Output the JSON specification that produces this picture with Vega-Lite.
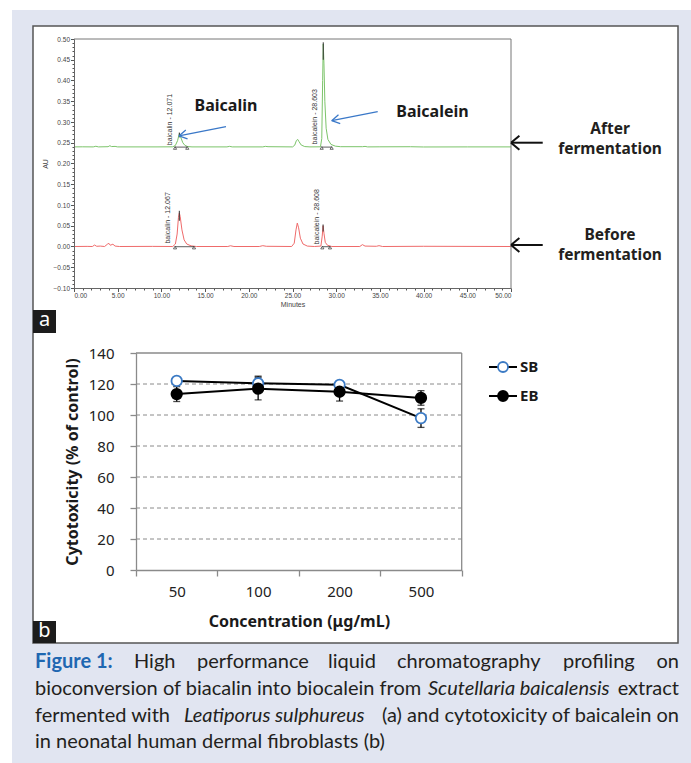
{
  "$schema": "https://vega.github.io/schema/vega-lite/v6.json",
  "width": 691,
  "height": 763,
  "autosize": {"type": "none"},
  "padding": 0,
  "background": "#ffffff",
  "config": {"view": {"stroke": null}, "font": "Noto Sans"},
  "data": {"values": [{}]},
  "datasets": {
    "chrom": [
      {"trace":"After","t":0,"au":0.240},{"trace":"After","t":1.0,"au":0.2402},{"trace":"After","t":2.2,"au":0.240},{"trace":"After","t":2.5,"au":0.2415},{"trace":"After","t":2.8,"au":0.240},{"trace":"After","t":3.9,"au":0.2405},{"trace":"After","t":4.1,"au":0.2428},{"trace":"After","t":4.3,"au":0.2408},{"trace":"After","t":4.7,"au":0.2412},{"trace":"After","t":5.0,"au":0.240},{"trace":"After","t":9.5,"au":0.240},{"trace":"After","t":11.3,"au":0.2402},{"trace":"After","t":11.6,"au":0.2435},{"trace":"After","t":11.85,"au":0.255},{"trace":"After","t":12.0,"au":0.268},{"trace":"After","t":12.07,"au":0.2725},{"trace":"After","t":12.2,"au":0.264},{"trace":"After","t":12.45,"au":0.250},{"trace":"After","t":12.7,"au":0.2435},{"trace":"After","t":13.0,"au":0.2408},{"trace":"After","t":13.5,"au":0.240},{"trace":"After","t":17.5,"au":0.240},{"trace":"After","t":17.8,"au":0.2413},{"trace":"After","t":18.1,"au":0.240},{"trace":"After","t":21.6,"au":0.240},{"trace":"After","t":21.9,"au":0.2413},{"trace":"After","t":22.2,"au":0.2405},{"trace":"After","t":25.0,"au":0.240},{"trace":"After","t":25.25,"au":0.244},{"trace":"After","t":25.45,"au":0.2555},{"trace":"After","t":25.6,"au":0.258},{"trace":"After","t":25.75,"au":0.2525},{"trace":"After","t":26.0,"au":0.2445},{"trace":"After","t":26.4,"au":0.2408},{"trace":"After","t":27.0,"au":0.240},{"trace":"After","t":28.2,"au":0.2402},{"trace":"After","t":28.35,"au":0.26},{"trace":"After","t":28.45,"au":0.40},{"trace":"After","t":28.52,"au":0.488},{"trace":"After","t":28.6,"au":0.44},{"trace":"After","t":28.7,"au":0.35},{"trace":"After","t":28.85,"au":0.285},{"trace":"After","t":29.05,"au":0.258},{"trace":"After","t":29.4,"au":0.246},{"trace":"After","t":29.9,"au":0.2418},{"trace":"After","t":30.5,"au":0.2405},{"trace":"After","t":33.0,"au":0.2405},{"trace":"After","t":33.3,"au":0.2412},{"trace":"After","t":33.6,"au":0.240},{"trace":"After","t":35.0,"au":0.2402},{"trace":"After","t":38.5,"au":0.2404},{"trace":"After","t":40.0,"au":0.2398},{"trace":"After","t":45.0,"au":0.240},{"trace":"After","t":50.0,"au":0.240},
      {"trace":"Before","t":0,"au":0.0},{"trace":"Before","t":1.5,"au":0.0003},{"trace":"Before","t":2.1,"au":0.0},{"trace":"Before","t":2.35,"au":0.0035},{"trace":"Before","t":2.6,"au":0.0005},{"trace":"Before","t":3.0,"au":0.001},{"trace":"Before","t":3.5,"au":0.0},{"trace":"Before","t":3.85,"au":0.006},{"trace":"Before","t":4.0,"au":0.0075},{"trace":"Before","t":4.15,"au":0.003},{"trace":"Before","t":4.45,"au":0.0055},{"trace":"Before","t":4.7,"au":0.001},{"trace":"Before","t":5.2,"au":0.0},{"trace":"Before","t":9.0,"au":0.0003},{"trace":"Before","t":11.3,"au":0.0},{"trace":"Before","t":11.6,"au":0.006},{"trace":"Before","t":11.8,"au":0.03},{"trace":"Before","t":11.95,"au":0.07},{"trace":"Before","t":12.05,"au":0.081},{"trace":"Before","t":12.15,"au":0.072},{"trace":"Before","t":12.35,"au":0.04},{"trace":"Before","t":12.6,"au":0.016},{"trace":"Before","t":12.9,"au":0.006},{"trace":"Before","t":13.4,"au":0.0015},{"trace":"Before","t":14.0,"au":0.0},{"trace":"Before","t":17.6,"au":0.0},{"trace":"Before","t":17.9,"au":0.0018},{"trace":"Before","t":18.3,"au":0.0},{"trace":"Before","t":21.2,"au":0.0},{"trace":"Before","t":21.6,"au":0.002},{"trace":"Before","t":22.0,"au":0.0005},{"trace":"Before","t":24.9,"au":0.0},{"trace":"Before","t":25.2,"au":0.008},{"trace":"Before","t":25.4,"au":0.04},{"trace":"Before","t":25.55,"au":0.0565},{"trace":"Before","t":25.7,"au":0.045},{"trace":"Before","t":25.9,"au":0.02},{"trace":"Before","t":26.2,"au":0.006},{"trace":"Before","t":26.7,"au":0.001},{"trace":"Before","t":27.5,"au":0.0},{"trace":"Before","t":28.25,"au":0.001},{"trace":"Before","t":28.4,"au":0.025},{"trace":"Before","t":28.5,"au":0.05},{"trace":"Before","t":28.6,"au":0.032},{"trace":"Before","t":28.75,"au":0.01},{"trace":"Before","t":29.0,"au":0.003},{"trace":"Before","t":29.5,"au":0.0},{"trace":"Before","t":32.7,"au":0.0},{"trace":"Before","t":33.0,"au":0.0045},{"trace":"Before","t":33.3,"au":0.001},{"trace":"Before","t":34.6,"au":0.0005},{"trace":"Before","t":34.9,"au":0.002},{"trace":"Before","t":35.3,"au":0.0},{"trace":"Before","t":40.0,"au":0.0005},{"trace":"Before","t":50.0,"au":0.0}
    ],
    "peaklabels": [
      {"label":"baicalin - 12.071","t":10.98,"au":0.244},
      {"label":"baicalin - 12.067","t":10.8,"au":0.007},
      {"label":"baicalein - 28.603","t":27.57,"au":0.246},
      {"label":"baicalein - 28.608","t":27.77,"au":0.005}
    ],
    "integration": [
      {"peak":"baicalin after","start":11.56,"end":12.96,"base":0.2395},
      {"peak":"baicalein after","start":28.34,"end":29.48,"base":0.2395},
      {"peak":"baicalin before","start":11.56,"end":13.73,"base":-0.0005},
      {"peak":"baicalein before","start":28.41,"end":29.29,"base":-0.0005}
    ],
    "integrationmarks": [
      {"t":11.56,"au":0.2375},{"t":12.96,"au":0.2375},{"t":28.34,"au":0.2375},{"t":29.48,"au":0.2375},
      {"t":11.56,"au":-0.0025},{"t":13.73,"au":-0.0025},{"t":28.41,"au":-0.0025},{"t":29.29,"au":-0.0025}
    ],
    "apex": [
      {"t":12.05,"lo":0.263,"hi":0.2745},
      {"t":28.52,"lo":0.45,"hi":0.492},
      {"t":12.05,"lo":0.062,"hi":0.086},
      {"t":28.5,"lo":0.036,"hi":0.053}
    ],
    "cyto": [
      {"series":"SB","conc":50,"value":122,"lo":120.5,"hi":123.5},
      {"series":"SB","conc":100,"value":120.5,"lo":116,"hi":125},
      {"series":"SB","conc":200,"value":119.5,"lo":118,"hi":121},
      {"series":"SB","conc":500,"value":98,"lo":92,"hi":104},
      {"series":"EB","conc":50,"value":113.5,"lo":108.7,"hi":118.3},
      {"series":"EB","conc":100,"value":117,"lo":109.7,"hi":124.3},
      {"series":"EB","conc":200,"value":115,"lo":109,"hi":121},
      {"series":"EB","conc":500,"value":111,"lo":106.3,"hi":115.7}
    ]
  },
  "layer": [
    {
      "layer": [
        {"mark": {"type": "rect", "fill": "#e1e5f1"},
         "encoding": {"x": {"datum": 12, "type": "quantitative", "scale": {"domain": [0, 691], "range": [0, 691], "zero": false, "nice": false}, "axis": null}, "x2": {"datum": 691},
                      "y": {"datum": 10, "type": "quantitative", "scale": {"domain": [0, 763], "range": [0, 763], "zero": false, "nice": false}, "axis": null}, "y2": {"datum": 763}}},
        {"mark": {"type": "rect", "fill": "#ffffff", "stroke": "#555555", "strokeWidth": 1.5},
         "encoding": {"x": {"datum": 33}, "x2": {"datum": 678}, "y": {"datum": 26}, "y2": {"datum": 643}}},
        {"mark": {"type": "rect", "fill": "#1c1c1c"},
         "encoding": {"x": {"datum": 33}, "x2": {"datum": 56}, "y": {"datum": 310}, "y2": {"datum": 333}}},
        {"mark": {"type": "rect", "fill": "#1c1c1c"},
         "encoding": {"x": {"datum": 33}, "x2": {"datum": 56}, "y": {"datum": 621}, "y2": {"datum": 643}}},
        {"mark": {"type": "text", "text": "a", "fill": "#ffffff", "fontSize": 20, "align": "center", "baseline": "middle", "font": "Noto Sans"},
         "encoding": {"x": {"datum": 44.5}, "y": {"datum": 320}}},
        {"mark": {"type": "text", "text": "b", "fill": "#ffffff", "fontSize": 20, "align": "center", "baseline": "middle", "font": "Noto Sans"},
         "encoding": {"x": {"datum": 44.5}, "y": {"datum": 631}}},
        {"mark": {"type": "text", "text": "Figure 1:", "fill": "#1f67b1", "fontSize": 20, "fontWeight": "bold", "font": "Lato", "align": "left", "baseline": "middle"},
         "encoding": {"x": {"datum": 35}, "y": {"datum": 662}}},
        {"mark": {"type": "text", "text": "High", "fill": "#231f20", "fontSize": 20, "font": "Lato", "align": "left", "baseline": "middle"},
         "encoding": {"x": {"datum": 134}, "y": {"datum": 662}}},
        {"mark": {"type": "text", "text": "performance", "fill": "#231f20", "fontSize": 20, "font": "Lato", "align": "left", "baseline": "middle"},
         "encoding": {"x": {"datum": 197}, "y": {"datum": 662}}},
        {"mark": {"type": "text", "text": "liquid", "fill": "#231f20", "fontSize": 20, "font": "Lato", "align": "left", "baseline": "middle"},
         "encoding": {"x": {"datum": 328}, "y": {"datum": 662}}},
        {"mark": {"type": "text", "text": "chromatography", "fill": "#231f20", "fontSize": 20, "font": "Lato", "align": "left", "baseline": "middle"},
         "encoding": {"x": {"datum": 397}, "y": {"datum": 662}}},
        {"mark": {"type": "text", "text": "profiling", "fill": "#231f20", "fontSize": 20, "font": "Lato", "align": "left", "baseline": "middle"},
         "encoding": {"x": {"datum": 563}, "y": {"datum": 662}}},
        {"mark": {"type": "text", "text": "on", "fill": "#231f20", "fontSize": 20, "font": "Lato", "align": "right", "baseline": "middle"},
         "encoding": {"x": {"datum": 679}, "y": {"datum": 662}}},
        {"mark": {"type": "text", "text": "bioconversion of biacalin into biocalein from", "fill": "#231f20", "fontSize": 20, "font": "Lato", "align": "left", "baseline": "middle"},
         "encoding": {"x": {"datum": 35}, "y": {"datum": 689}}},
        {"mark": {"type": "text", "text": "Scutellaria baicalensis", "fill": "#231f20", "fontSize": 20, "font": "Lato", "fontStyle": "italic", "align": "left", "baseline": "middle"},
         "encoding": {"x": {"datum": 428}, "y": {"datum": 689}}},
        {"mark": {"type": "text", "text": "extract", "fill": "#231f20", "fontSize": 20, "font": "Lato", "align": "right", "baseline": "middle"},
         "encoding": {"x": {"datum": 679}, "y": {"datum": 689}}},
        {"mark": {"type": "text", "text": "fermented with", "fill": "#231f20", "fontSize": 20, "font": "Lato", "align": "left", "baseline": "middle"},
         "encoding": {"x": {"datum": 35}, "y": {"datum": 716}}},
        {"mark": {"type": "text", "text": "Leatiporus sulphureus", "fill": "#231f20", "fontSize": 20, "font": "Lato", "fontStyle": "italic", "align": "left", "baseline": "middle"},
         "encoding": {"x": {"datum": 184}, "y": {"datum": 716}}},
        {"mark": {"type": "text", "text": "(a) and cytotoxicity of baicalein on", "fill": "#231f20", "fontSize": 20, "font": "Lato", "align": "right", "baseline": "middle"},
         "encoding": {"x": {"datum": 679}, "y": {"datum": 716}}},
        {"mark": {"type": "text", "text": "in neonatal human dermal fibroblasts (b)", "fill": "#231f20", "fontSize": 20, "font": "Lato", "align": "left", "baseline": "middle"},
         "encoding": {"x": {"datum": 35}, "y": {"datum": 742}}}
      ]
    },
    {
      "layer": [
        {"data": {"name": "chrom"},
         "mark": {"type": "line", "strokeWidth": 1},
         "encoding": {
           "x": {"field": "t", "type": "quantitative",
                 "scale": {"domain": [0, 50], "range": [74, 511], "zero": false, "nice": false},
                 "axis": {"orient": "bottom", "offset": -475, "grid": false, "zindex": 1, "tickCount": 200,
                          "values": [0,1,2,3,4,5,6,7,8,9,10,11,12,13,14,15,16,17,18,19,20,21,22,23,24,25,26,27,28,29,30,31,32,33,34,35,36,37,38,39,40,41,42,43,44,45,46,47,48,49,50],
                          "labelExpr": "datum.value % 5 === 0 ? format(datum.value, '.2f') : ''",
                          "tickSize": {"condition": {"test": "datum.value % 5 === 0", "value": 3.5}, "value": 2},
                          "labelFont": "Liberation Sans", "labelFontSize": 6.5, "labelColor": "#444444", "labelPadding": 1, "labelOverlap": false,
                          "tickColor": "#555555", "domainColor": "#666666",
                          "title": "Minutes", "titleFont": "Liberation Sans", "titleFontSize": 7, "titleFontWeight": "normal", "titleColor": "#444444", "titlePadding": 1}},
           "y": {"field": "au", "type": "quantitative",
                 "scale": {"domain": [-0.1, 0.5], "range": [288, 39], "zero": false, "nice": false},
                 "axis": {"orient": "left", "offset": -74, "grid": false, "zindex": 1, "tickCount": 200,
                          "values": [-0.1,-0.09,-0.08,-0.07,-0.06,-0.05,-0.04,-0.03,-0.02,-0.01,0,0.01,0.02,0.03,0.04,0.05,0.06,0.07,0.08,0.09,0.1,0.11,0.12,0.13,0.14,0.15,0.16,0.17,0.18,0.19,0.2,0.21,0.22,0.23,0.24,0.25,0.26,0.27,0.28,0.29,0.3,0.31,0.32,0.33,0.34,0.35,0.36,0.37,0.38,0.39,0.4,0.41,0.42,0.43,0.44,0.45,0.46,0.47,0.48,0.49,0.5],
                          "labelExpr": "abs(datum.value*20 - round(datum.value*20)) < 0.001 ? format(datum.value, '.2f') : ''",
                          "tickSize": {"condition": {"test": "abs(datum.value*20 - round(datum.value*20)) < 0.001", "value": 3.5}, "value": 2},
                          "labelFont": "Liberation Sans", "labelFontSize": 6.5, "labelColor": "#444444", "labelPadding": 1, "labelOverlap": false,
                          "tickColor": "#555555", "domainColor": "#666666",
                          "title": "AU", "titleFont": "Liberation Sans", "titleFontSize": 7, "titleFontWeight": "normal", "titleColor": "#444444", "titlePadding": 5}},
           "color": {"field": "trace", "type": "nominal", "scale": {"domain": ["After", "Before"], "range": ["#7cc46a", "#ef6b6b"]}, "legend": null}
         }},
        {"mark": {"type": "rule", "color": "#777777", "strokeWidth": 1},
         "encoding": {"x": {"datum": 0}, "x2": {"datum": 50}, "y": {"datum": 0.5}}},
        {"mark": {"type": "rule", "color": "#777777", "strokeWidth": 1},
         "encoding": {"x": {"datum": 50}, "y": {"datum": -0.1}, "y2": {"datum": 0.5}}},
        {"data": {"name": "integration"},
         "mark": {"type": "rule", "color": "#333333", "strokeWidth": 0.8},
         "encoding": {"x": {"field": "start", "type": "quantitative"}, "x2": {"field": "end"}, "y": {"field": "base", "type": "quantitative"}}},
        {"data": {"name": "integrationmarks"},
         "mark": {"type": "point", "shape": "triangle-up", "size": 10, "filled": false, "stroke": "#333333", "strokeWidth": 0.7, "opacity": 1},
         "encoding": {"x": {"field": "t", "type": "quantitative"}, "y": {"field": "au", "type": "quantitative"}}},
        {"data": {"name": "apex"},
         "mark": {"type": "rule", "color": "#333333", "strokeWidth": 1},
         "encoding": {"x": {"field": "t", "type": "quantitative"}, "y": {"field": "lo", "type": "quantitative"}, "y2": {"field": "hi"}}},
        {"data": {"name": "peaklabels"},
         "mark": {"type": "text", "angle": 270, "align": "left", "baseline": "middle", "font": "Liberation Sans", "fontSize": 7, "fill": "#333333"},
         "encoding": {"x": {"field": "t", "type": "quantitative"}, "y": {"field": "au", "type": "quantitative"}, "text": {"field": "label"}}},
        {"mark": {"type": "rule", "color": "#3a78c8", "strokeWidth": 1.3},
         "encoding": {"x": {"datum": 17.39}, "y": {"datum": 0.2887}, "x2": {"datum": 12.01}, "y2": {"datum": 0.2663}}},
        {"mark": {"type": "rule", "color": "#3a78c8", "strokeWidth": 1.3},
         "encoding": {"x": {"datum": 12.01}, "y": {"datum": 0.2663}, "x2": {"datum": 12.99}, "y2": {"datum": 0.2593}}},
        {"mark": {"type": "rule", "color": "#3a78c8", "strokeWidth": 1.3},
         "encoding": {"x": {"datum": 12.01}, "y": {"datum": 0.2663}, "x2": {"datum": 12.79}, "y2": {"datum": 0.2805}}},
        {"mark": {"type": "rule", "color": "#3a78c8", "strokeWidth": 1.3},
         "encoding": {"x": {"datum": 34.75}, "y": {"datum": 0.3248}, "x2": {"datum": 29.49}, "y2": {"datum": 0.3031}}},
        {"mark": {"type": "rule", "color": "#3a78c8", "strokeWidth": 1.3},
         "encoding": {"x": {"datum": 29.49}, "y": {"datum": 0.3031}, "x2": {"datum": 30.46}, "y2": {"datum": 0.2961}}},
        {"mark": {"type": "rule", "color": "#3a78c8", "strokeWidth": 1.3},
         "encoding": {"x": {"datum": 29.49}, "y": {"datum": 0.3031}, "x2": {"datum": 30.26}, "y2": {"datum": 0.3173}}},
        {"mark": {"type": "rule", "color": "#111111", "strokeWidth": 2},
         "encoding": {"x": {"datum": 50}, "y": {"datum": 0.2501}, "x2": {"datum": 53.63}, "y2": {"datum": 0.2501}}},
        {"mark": {"type": "rule", "color": "#111111", "strokeWidth": 2},
         "encoding": {"x": {"datum": 50}, "y": {"datum": 0.2501}, "x2": {"datum": 50.96}, "y2": {"datum": 0.267}}},
        {"mark": {"type": "rule", "color": "#111111", "strokeWidth": 2},
         "encoding": {"x": {"datum": 50}, "y": {"datum": 0.2501}, "x2": {"datum": 50.96}, "y2": {"datum": 0.2332}}},
        {"mark": {"type": "rule", "color": "#111111", "strokeWidth": 2},
         "encoding": {"x": {"datum": 50}, "y": {"datum": 0.0036}, "x2": {"datum": 53.63}, "y2": {"datum": 0.0036}}},
        {"mark": {"type": "rule", "color": "#111111", "strokeWidth": 2},
         "encoding": {"x": {"datum": 50}, "y": {"datum": 0.0036}, "x2": {"datum": 50.96}, "y2": {"datum": 0.0205}}},
        {"mark": {"type": "rule", "color": "#111111", "strokeWidth": 2},
         "encoding": {"x": {"datum": 50}, "y": {"datum": 0.0036}, "x2": {"datum": 50.96}, "y2": {"datum": -0.0133}}},
        {"mark": {"type": "text", "text": "Baicalin", "font": "Noto Sans", "fontSize": 16, "fontWeight": "bold", "fill": "#1a1a1a", "align": "center", "baseline": "middle"},
         "encoding": {"x": {"datum": 17.39}, "y": {"datum": 0.3386}}},
        {"mark": {"type": "text", "text": "Baicalein", "font": "Noto Sans", "fontSize": 16, "fontWeight": "bold", "fill": "#1a1a1a", "align": "center", "baseline": "middle"},
         "encoding": {"x": {"datum": 41.02}, "y": {"datum": 0.3248}}},
        {"mark": {"type": "text", "text": ["After", "fermentation"], "lineHeight": 20, "font": "Noto Sans", "fontSize": 15.5, "fontWeight": "bold", "fill": "#231f20", "align": "center", "baseline": "middle"},
         "encoding": {"x": {"datum": 61.33}, "y": {"datum": 0.2831}}},
        {"mark": {"type": "text", "text": ["Before", "fermentation"], "lineHeight": 20, "font": "Noto Sans", "fontSize": 15.5, "fontWeight": "bold", "fill": "#231f20", "align": "center", "baseline": "middle"},
         "encoding": {"x": {"datum": 61.33}, "y": {"datum": 0.0277}}}
      ]
    },
    {
      "layer": [
        {"data": {"values": [{"g": 20}, {"g": 40}, {"g": 60}, {"g": 80}, {"g": 100}, {"g": 120}]},
         "mark": {"type": "rule", "color": "#8a8a8a", "strokeWidth": 1, "strokeDash": [4, 3]},
         "encoding": {"x": {"datum": 0, "type": "quantitative", "scale": {"domain": [0, 4], "range": [136, 461.7], "zero": false, "nice": false}, "axis": null}, "x2": {"datum": 4},
                      "y": {"field": "g", "type": "quantitative", "scale": {"domain": [0, 140], "range": [570, 353], "zero": false, "nice": false}, "axis": null}}},
        {"mark": {"type": "rule", "color": "#8a8a8a", "strokeWidth": 1.3},
         "encoding": {"x": {"datum": 0}, "x2": {"datum": 4}, "y": {"datum": 140}}},
        {"mark": {"type": "rule", "color": "#8a8a8a", "strokeWidth": 1.3},
         "encoding": {"x": {"datum": 4}, "y": {"datum": 0}, "y2": {"datum": 140}}}
      ]
    },
    {
      "data": {"name": "cyto"},
      "layer": [
        {"mark": {"type": "line", "color": "#000000", "strokeWidth": 2},
         "encoding": {
           "x": {"field": "conc", "type": "ordinal",
                 "scale": {"type": "band", "domain": [50, 100, 200, 500], "range": [136, 461.7], "paddingInner": 0, "paddingOuter": 0},
                 "axis": {"orient": "bottom", "offset": -193, "tickBand": "extent", "labelAngle": 0, "grid": false, "zindex": 1,
                          "labelFont": "Noto Sans", "labelFontSize": 15, "labelColor": "#222222", "labelPadding": 8,
                          "tickSize": 6, "tickColor": "#8a8a8a", "tickWidth": 1.3, "domainColor": "#8a8a8a", "domainWidth": 1.3,
                          "title": "Concentration (μg/mL)", "titleFont": "Noto Sans", "titleFontSize": 16, "titleFontWeight": "bold", "titleColor": "#1a1a1a", "titlePadding": 14}},
           "y": {"field": "value", "type": "quantitative",
                 "scale": {"domain": [0, 140], "range": [570, 353], "zero": false, "nice": false},
                 "axis": {"orient": "left", "offset": -136, "grid": false, "zindex": 1, "values": [0, 20, 40, 60, 80, 100, 120, 140],
                          "labelFont": "Noto Sans", "labelFontSize": 15, "labelColor": "#222222", "labelPadding": 16,
                          "tickSize": 6, "tickColor": "#8a8a8a", "tickWidth": 1.3, "domainColor": "#8a8a8a", "domainWidth": 1.3,
                          "title": "Cytotoxicity (% of control)", "titleFont": "Noto Sans", "titleFontSize": 16, "titleFontWeight": "bold", "titleColor": "#1a1a1a", "titlePadding": 8}},
           "detail": {"field": "series", "type": "nominal"}
         }},
        {"mark": {"type": "rule", "color": "#000000", "strokeWidth": 1.3},
         "encoding": {"x": {"field": "conc", "type": "ordinal"}, "y": {"field": "lo", "type": "quantitative"}, "y2": {"field": "hi"}}},
        {"mark": {"type": "tick", "color": "#000000", "size": 7, "thickness": 1.3, "orient": "horizontal"},
         "encoding": {"x": {"field": "conc", "type": "ordinal"}, "y": {"field": "lo", "type": "quantitative"}}},
        {"mark": {"type": "tick", "color": "#000000", "size": 7, "thickness": 1.3, "orient": "horizontal"},
         "encoding": {"x": {"field": "conc", "type": "ordinal"}, "y": {"field": "hi", "type": "quantitative"}}},
        {"mark": {"type": "point", "filled": true, "size": 110, "strokeWidth": 1.8, "opacity": 1},
         "encoding": {"x": {"field": "conc", "type": "ordinal"}, "y": {"field": "value", "type": "quantitative"},
                      "fill": {"field": "series", "type": "nominal", "scale": {"domain": ["SB", "EB"], "range": ["#ffffff", "#000000"]}, "legend": null},
                      "stroke": {"field": "series", "type": "nominal", "scale": {"domain": ["SB", "EB"], "range": ["#3b7ac4", "#000000"]}, "legend": null}}}
      ]
    },
    {
      "data": {"values": [{"series": "SB"}, {"series": "EB"}]},
      "layer": [
        {"mark": {"type": "rule", "color": "#000000", "strokeWidth": 2},
         "encoding": {"x": {"datum": 0, "type": "quantitative", "scale": {"domain": [0, 1], "range": [489, 517], "zero": false, "nice": false}, "axis": null}, "x2": {"datum": 1},
                      "y": {"field": "series", "type": "nominal", "scale": {"type": "point", "domain": ["SB", "EB"], "range": [367, 396], "padding": 0}, "axis": null}}},
        {"mark": {"type": "point", "filled": true, "size": 100, "strokeWidth": 1.8, "opacity": 1},
         "encoding": {"x": {"datum": 0.5}, "y": {"field": "series", "type": "nominal"},
                      "fill": {"field": "series", "type": "nominal", "legend": null},
                      "stroke": {"field": "series", "type": "nominal", "legend": null}}},
        {"mark": {"type": "text", "align": "left", "baseline": "middle", "dx": 3, "font": "Noto Sans", "fontSize": 15, "fontWeight": "bold", "fill": "#1a1a1a"},
         "encoding": {"x": {"datum": 1}, "y": {"field": "series", "type": "nominal"}, "text": {"field": "series"}}}
      ]
    }
  ],
  "resolve": {"scale": {"x": "independent", "y": "independent"}}
}
